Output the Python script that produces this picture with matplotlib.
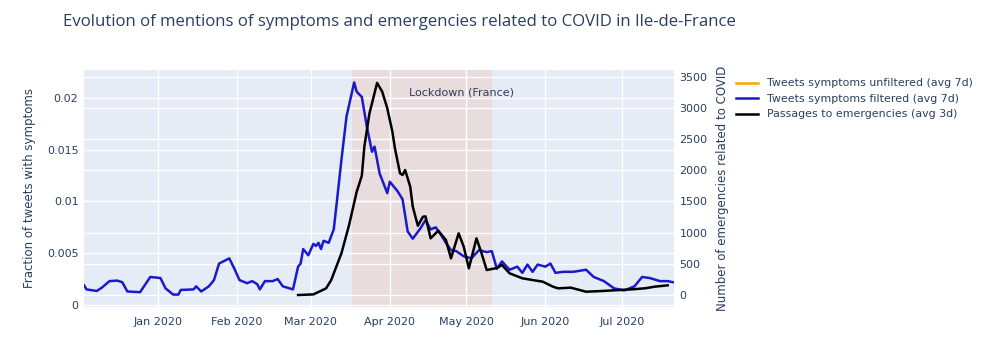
import matplotlib
matplotlib.use("Agg")
import matplotlib.pyplot as plt
import matplotlib.dates as mdates
import matplotlib.transforms as mtransforms
import pandas as pd

title = "Evolution of mentions of symptoms and emergencies related to COVID in Ile-de-France"
left_label = "Fraction of tweets with symptoms"
right_label = "Number of emergencies related to COVID"
legend_labels = ["Tweets symptoms unfiltered (avg 7d)",
                 "Tweets symptoms filtered (avg 7d)",
                 "Passages to emergencies (avg 3d)"]
lockdown_label = "Lockdown (France)"
lockdown_start = "2020-03-17"
lockdown_end = "2020-05-11"

blue_dates = ["2019-12-03", "2019-12-04", "2019-12-08", "2019-12-10", "2019-12-13", "2019-12-16",
              "2019-12-18", "2019-12-20", "2019-12-25", "2019-12-29", "2020-01-02", "2020-01-04",
              "2020-01-07", "2020-01-09", "2020-01-10", "2020-01-15", "2020-01-16", "2020-01-18",
              "2020-01-21", "2020-01-23", "2020-01-25", "2020-01-29", "2020-01-31", "2020-02-02",
              "2020-02-05", "2020-02-07", "2020-02-09", "2020-02-10", "2020-02-12", "2020-02-15",
              "2020-02-17", "2020-02-19", "2020-02-23", "2020-02-25", "2020-02-26", "2020-02-27",
              "2020-02-29", "2020-03-02", "2020-03-03", "2020-03-04", "2020-03-05", "2020-03-06",
              "2020-03-08", "2020-03-10", "2020-03-11", "2020-03-13", "2020-03-15", "2020-03-18",
              "2020-03-19", "2020-03-21", "2020-03-23", "2020-03-25", "2020-03-26", "2020-03-28",
              "2020-03-31", "2020-04-01", "2020-04-04", "2020-04-06", "2020-04-08", "2020-04-10",
              "2020-04-13", "2020-04-15", "2020-04-17", "2020-04-19", "2020-04-21", "2020-04-23",
              "2020-04-25", "2020-04-27", "2020-04-30", "2020-05-03", "2020-05-06", "2020-05-09",
              "2020-05-11", "2020-05-13", "2020-05-15", "2020-05-18", "2020-05-21", "2020-05-23",
              "2020-05-25", "2020-05-27", "2020-05-29", "2020-06-01", "2020-06-03", "2020-06-05",
              "2020-06-08", "2020-06-12", "2020-06-17", "2020-06-20", "2020-06-24", "2020-06-28",
              "2020-07-02", "2020-07-06", "2020-07-09", "2020-07-12", "2020-07-16", "2020-07-19",
              "2020-07-21"]
blue_values = [0.0019, 0.0015, 0.00135, 0.00167, 0.0023, 0.00235,
               0.0022, 0.0013, 0.00123, 0.0027, 0.0026, 0.0016,
               0.0010, 0.0010, 0.00145, 0.0015, 0.0018, 0.0013,
               0.0018, 0.0024, 0.0040, 0.0045, 0.0035, 0.0024,
               0.0021, 0.0023, 0.0020, 0.0015, 0.0023, 0.0023,
               0.0025, 0.0018, 0.0015, 0.0037, 0.0040, 0.0054,
               0.0048, 0.0059, 0.0057, 0.0060, 0.0054, 0.0062,
               0.0060, 0.0073, 0.0095, 0.0140, 0.0182, 0.0215,
               0.0206, 0.0201, 0.0172, 0.0148, 0.0153, 0.0127,
               0.0108, 0.0119, 0.0110, 0.0102, 0.0071, 0.0064,
               0.0074, 0.0082, 0.0073, 0.0075, 0.0068, 0.0060,
               0.0053, 0.0052, 0.0047, 0.0045, 0.0053, 0.0051,
               0.0052, 0.0035, 0.0042, 0.0034, 0.0037, 0.0031,
               0.0039, 0.0032, 0.0039, 0.0037, 0.0040, 0.0031,
               0.0032, 0.0032, 0.0034, 0.0027, 0.0023, 0.0016,
               0.0014, 0.0018, 0.0027, 0.0026, 0.0023, 0.0023,
               0.0022]

black_dates = ["2020-02-25", "2020-03-02", "2020-03-07", "2020-03-09", "2020-03-13", "2020-03-16",
               "2020-03-19", "2020-03-21", "2020-03-22", "2020-03-24", "2020-03-25", "2020-03-27",
               "2020-03-29", "2020-03-31", "2020-04-02", "2020-04-03", "2020-04-05", "2020-04-06",
               "2020-04-07", "2020-04-09", "2020-04-10", "2020-04-12", "2020-04-14", "2020-04-15",
               "2020-04-17", "2020-04-20", "2020-04-23", "2020-04-25", "2020-04-28", "2020-04-30",
               "2020-05-02", "2020-05-05", "2020-05-07", "2020-05-09", "2020-05-13", "2020-05-15",
               "2020-05-18", "2020-05-23", "2020-05-27", "2020-05-31", "2020-06-04", "2020-06-06",
               "2020-06-11", "2020-06-17", "2020-06-23", "2020-06-30", "2020-07-05", "2020-07-10",
               "2020-07-14", "2020-07-19"]
black_values = [0, 10, 107, 240, 668, 1120,
                1656, 1910, 2377, 2912, 3073, 3400,
                3260, 2993, 2618, 2352, 1950, 1924,
                2004, 1737, 1416, 1111, 1255, 1260,
                909, 1031, 882, 588, 989, 774,
                428, 909, 668, 401, 433, 481,
                348, 268, 240, 214, 134, 107,
                118, 53, 64, 80, 91, 107,
                134, 155]

left_ticks = [0, 0.005, 0.01, 0.015, 0.02]
left_tick_labels = ["0", "0.005", "0.01", "0.015", "0.02"]
right_ticks = [0, 500, 1000, 1500, 2000, 2500, 3000, 3500]

TEXT = "#2a3f5f"
BG = "#E5ECF6"

fig = plt.figure(figsize=(9.92, 3.46), dpi=100)
ax1 = fig.add_axes([84/992, 1-307/346, (674-84)/992, (307-70)/346])
ax2 = ax1.twinx()

ax1.set_facecolor(BG)
ax1.set_axisbelow(True)
for a in (ax1, ax2):
    for s in a.spines.values():
        s.set_visible(False)

bd = pd.to_datetime(blue_dates)
kd = pd.to_datetime(black_dates)

ax1.axvspan(pd.Timestamp(lockdown_start), pd.Timestamp(lockdown_end),
            color="#e9dcdc", zorder=0.2, lw=0)

ax1.set_ylim(-0.0002, 0.0227)
ax2.set_ylim(-192, 3607)
ax1.set_xlim(pd.Timestamp("2019-12-03"), pd.Timestamp("2020-07-21 12:00"))

ax1.set_yticks(left_ticks)
ax1.set_yticklabels(left_tick_labels)
ax2.set_yticks(right_ticks)

ax1.xaxis.set_major_locator(mdates.MonthLocator())
ax1.xaxis.set_major_formatter(mdates.DateFormatter("%b %Y"))

ax1.grid(True, color="white", lw=1.0, zorder=0.5)
ax2.grid(False)
# right-axis gridlines drawn beneath traces
tr = mtransforms.blended_transform_factory(ax1.transAxes, ax2.transData)
for v in right_ticks:
    ax1.plot([0, 1], [v, v], transform=tr, color="white", lw=1.0, zorder=0.6)

ax1.plot([], [], color="orange", lw=1.8, label=legend_labels[0])
ax1.plot(bd, blue_values, color="#1a1acc", lw=1.8, label=legend_labels[1], zorder=2)
ax2.plot(kd, black_values, color="black", lw=1.8, label=legend_labels[2], zorder=3)

for a in (ax1, ax2):
    a.tick_params(length=0, labelsize=8, labelcolor=TEXT, pad=4)
ax1.tick_params(axis="x", pad=7)

ax1.set_ylabel(left_label, fontsize=8.5, color=TEXT, labelpad=8)
ax2.set_ylabel(right_label, fontsize=8.5, color=TEXT, labelpad=6)

ax1.text(pd.Timestamp("2020-04-29"), 0.0205, lockdown_label, ha="center", va="center",
         fontsize=8, color=TEXT, zorder=5)

fig.text(63/992, 1-22/346, title, fontsize=12.1, color=TEXT, ha="left", va="center",
         family="Open Sans")

h1, l1 = ax1.get_legend_handles_labels()
h2, l2 = ax2.get_legend_handles_labels()
leg = fig.legend(h1 + h2, l1 + l2, loc="upper left", bbox_to_anchor=(732/992, 1-74/346),
                 frameon=False, fontsize=7.9, labelcolor=TEXT, handlelength=2.0,
                 handletextpad=0.8, labelspacing=0.5, borderaxespad=0)

fig.savefig("out.png", dpi=100)
